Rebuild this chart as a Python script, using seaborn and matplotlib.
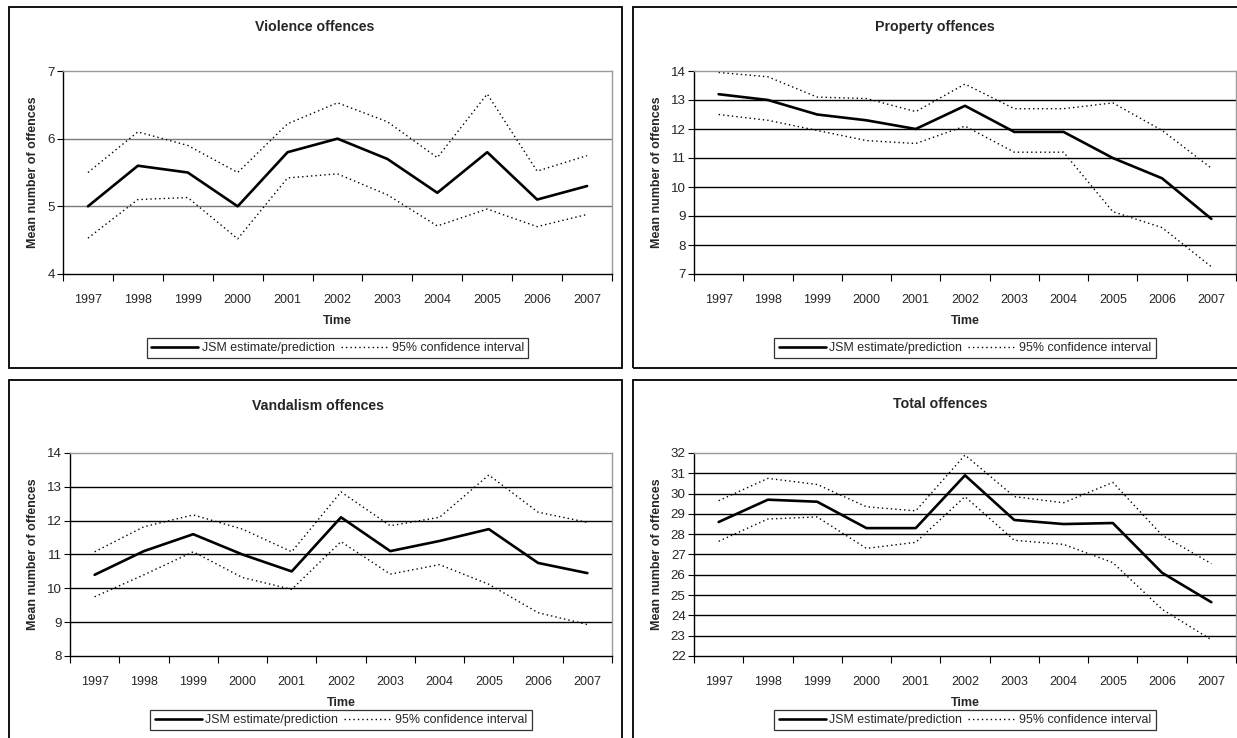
import numpy as np
import pandas as pd
import matplotlib
matplotlib.use("Agg")
import matplotlib.pyplot as plt
from matplotlib.lines import Line2D
from matplotlib.patches import Rectangle
from matplotlib.ticker import FixedLocator
import seaborn as sns

sns.set_style("white")
plt.rcParams["font.family"] = ["Liberation Sans", "DejaVu Sans"]

years = [1997, 1998, 1999, 2000, 2001, 2002, 2003, 2004, 2005, 2006, 2007]

violence_est = [5.0, 5.6, 5.5, 5.0, 5.8, 6.0, 5.7, 5.2, 5.8, 5.1, 5.3]
violence_upper = [5.5, 6.1, 5.9, 5.5, 6.22, 6.53, 6.25, 5.72, 6.66, 5.52, 5.75]
violence_lower = [4.53, 5.1, 5.13, 4.52, 5.42, 5.48, 5.17, 4.71, 4.96, 4.7, 4.88]

property_est = [13.2, 13.0, 12.5, 12.3, 12.0, 12.8, 11.9, 11.9, 11.0, 10.3, 8.9]
property_upper = [13.95, 13.8, 13.1, 13.05, 12.6, 13.55, 12.7, 12.7, 12.9, 11.95, 10.65]
property_lower = [12.5, 12.3, 11.95, 11.6, 11.5, 12.1, 11.2, 11.2, 9.15, 8.6, 7.25]

vandalism_est = [10.4, 11.1, 11.6, 11.0, 10.5, 12.1, 11.1, 11.4, 11.75, 10.75, 10.45]
vandalism_upper = [11.08, 11.82, 12.17, 11.75, 11.08, 12.85, 11.85, 12.1, 13.35, 12.25, 11.95]
vandalism_lower = [9.75, 10.4, 11.08, 10.32, 9.97, 11.38, 10.42, 10.7, 10.12, 9.28, 8.93]

total_est = [28.6, 29.7, 29.6, 28.3, 28.3, 30.9, 28.7, 28.5, 28.55, 26.1, 24.65]
total_upper = [29.65, 30.75, 30.45, 29.35, 29.15, 31.9, 29.85, 29.55, 30.55, 27.95, 26.55]
total_lower = [27.65, 28.75, 28.85, 27.3, 27.6, 29.85, 27.7, 27.5, 26.6, 24.3, 22.8]

titles = ["Violence offences", "Property offences", "Vandalism offences", "Total offences"]
y_ranges = [(4, 7), (7, 14), (8, 14), (22, 32)]
legend_labels = ["JSM estimate/prediction", "95% confidence interval"]

panels = [
    (violence_est, violence_upper, violence_lower),
    (property_est, property_upper, property_lower),
    (vandalism_est, vandalism_upper, vandalism_lower),
    (total_est, total_upper, total_lower),
]

W, H = 1237, 738
fig = plt.figure(figsize=(W / 100, H / 100), dpi=100)

# pixel layout of each panel: frame box, plot area, title centre, y-label x
layout = [
    dict(box=(9, 7, 622, 368), plot=(63, 71, 612, 274), title=(315, 27), ylab=33, grid="#7a7a7a"),
    dict(box=(633, 7, 1245, 368), plot=(694, 71, 1236, 274), title=(935, 27), ylab=657, grid="black"),
    dict(box=(9, 380, 622, 745), plot=(70, 453, 612, 656), title=(318, 406), ylab=33, grid="black"),
    dict(box=(633, 380, 1245, 745), plot=(694, 453, 1236, 656), title=(940, 404), ylab=657, grid="black"),
]


def fx(px):
    return px / W


def fy(py):
    return 1 - py / H


for (est, up, lo), title, (ymin, ymax), lay in zip(panels, titles, y_ranges, layout):
    bx0, by0, bx1, by1 = lay["box"]
    fig.add_artist(Rectangle((fx(bx0), fy(by1)), fx(bx1 - bx0), (by1 - by0) / H,
                             transform=fig.transFigure, fill=False,
                             edgecolor="black", linewidth=1.3, zorder=0))

    px0, py0, px1, py1 = lay["plot"]
    ax = fig.add_axes([fx(px0), fy(py1), fx(px1 - px0), (py1 - py0) / H])

    df = pd.DataFrame({"year": years, "est": est, "upper": up, "lower": lo})
    for ytick in range(ymin + 1, ymax):
        ax.axhline(ytick, color=lay["grid"], linewidth=1.0, zorder=1)
    sns.lineplot(data=df, x="year", y="upper", ax=ax, color="black",
                 linestyle=(0, (1, 2.2)), linewidth=1.0, zorder=2)
    sns.lineplot(data=df, x="year", y="lower", ax=ax, color="black",
                 linestyle=(0, (1, 2.2)), linewidth=1.0, zorder=2)
    sns.lineplot(data=df, x="year", y="est", ax=ax, color="black",
                 linewidth=1.9, zorder=3)

    ax.set_xlim(years[0] - 0.5, years[-1] + 0.5)
    ax.set_ylim(ymin, ymax)
    ax.set_xticks(years)
    ax.set_xticklabels([str(y) for y in years])
    ax.xaxis.set_minor_locator(FixedLocator([y - 0.5 for y in years] + [years[-1] + 0.5]))
    ax.tick_params(axis="x", which="major", length=0, pad=14.5, labelsize=9)
    ax.tick_params(axis="x", which="minor", length=5, width=0.8, color="black",
                   direction="out", bottom=True)
    ax.set_yticks(range(ymin, ymax + 1))
    ax.tick_params(axis="y", which="major", length=4, width=0.8, color="black",
                   direction="out", left=True, pad=2, labelsize=9.6)

    for side in ["left", "bottom"]:
        ax.spines[side].set_color("black")
        ax.spines[side].set_linewidth(1.0)
    for side in ["top", "right"]:
        ax.spines[side].set_color("#9a9a9a")
        ax.spines[side].set_linewidth(1.0)

    ax.set_xlabel("Time", fontsize=9, fontweight="bold", labelpad=6.5)
    ax.set_ylabel("Mean number of offences", fontsize=9, fontweight="bold")
    ax.yaxis.set_label_coords((lay["ylab"] - px0) / (px1 - px0), 0.5)
    ax.yaxis.label.set_verticalalignment("center")

    fig.text(fx(lay["title"][0]), fy(lay["title"][1]), title, fontsize=10.2,
             fontweight="bold", ha="center", va="center")

    handles = [Line2D([], [], color="black", linewidth=1.9),
               Line2D([], [], color="black", linewidth=1.0, linestyle=(0, (1, 2.2)))]
    leg_y = by0 + 341 if by0 < 100 else by0 + 340
    leg = fig.legend(handles, legend_labels, loc="center", ncol=2,
                     bbox_to_anchor=(fx((px0 + px1) / 2), fy(leg_y)),
                     bbox_transform=fig.transFigure, fontsize=8.9, frameon=True,
                     fancybox=False, edgecolor="black", handlelength=3.8,
                     handletextpad=0.3, columnspacing=0.5, borderpad=0.35,
                     borderaxespad=0)
    leg.get_frame().set_linewidth(0.9)

fig.savefig("out.png", dpi=100, facecolor="white")
